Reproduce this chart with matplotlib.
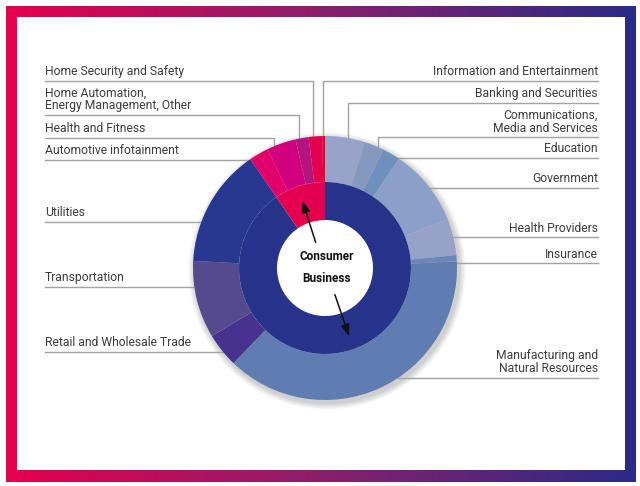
import numpy as np
import matplotlib
matplotlib.use("Agg")
import matplotlib.pyplot as plt
from matplotlib.colors import LinearSegmentedColormap

W, H = 640, 486

# ---- data (shares, percent of total) ----
consumer_labels = [
    "Information and Entertainment",
    "Home Security and Safety",
    "Home Automation,\nEnergy Management, Other",
    "Health and Fitness",
    "Automotive infotainment",
]
consumer_values = [0.33, 1.67, 1.6, 3.6, 2.4]   # counter-clockwise from 12 o'clock
consumer_colors = ["#e8001c", "#e4004f", "#b4147e", "#d2007e", "#e3006b"]

business_labels = [
    "Banking and Securities",
    "Communications,\nMedia and Services",
    "Education",
    "Government",
    "Health Providers",
    "Insurance",
    "Manufacturing and\nNatural Resources",
    "Retail and Wholesale Trade",
    "Transportation",
    "Utilities",
]
business_values = [4.9, 2.4, 2.2, 9.5, 4.5, 0.75, 38.1, 4.2, 9.5, 14.6]  # clockwise
business_colors = ["#97a3c8", "#8798be", "#6f8fbd", "#8ba0c9", "#97a2c9",
                   "#6a86ba", "#5f7db0", "#47338f", "#554a8d", "#283891"]

inner_labels = ["Business", "Consumer"]
inner_colors = ["#27338b", "#e4004f"]

# ---- layout ----
cx, cy = 325, 268          # pie centre in pixels (y down)
R_OUT, R_MID, R_IN = 132, 86, 48
LINE_C = "#a3a3a3"
TEXT_C = "#3b3b3b"
FONT = ["Roboto", "DejaVu Sans"]

# label side, y of the underline, x of the elbow (None = straight into the ring)
label_layout = {
    "Home Security and Safety": ("L", 81, 313),
    "Home Automation,\nEnergy Management, Other": ("L", 115, 299),
    "Health and Fitness": ("L", 138, 274),
    "Automotive infotainment": ("L", 160, None),
    "Utilities": ("L", 222, None),
    "Transportation": ("L", 287, None),
    "Retail and Wholesale Trade": ("L", 352, None),
    "Information and Entertainment": ("R", 81, 323),
    "Banking and Securities": ("R", 103, 348),
    "Communications,\nMedia and Services": ("R", 137, 378),
    "Education": ("R", 158, None),
    "Government": ("R", 188, None),
    "Health Providers": ("R", 237, None),
    "Insurance": ("R", 263, None),
    "Manufacturing and\nNatural Resources": ("R", 378, None),
}


def py(y):
    return H - y


fig = plt.figure(figsize=(W / 100, H / 100), dpi=100)
ax = fig.add_axes([0, 0, 1, 1])

outer_vals = business_values + consumer_values[::-1]
outer_cols = business_colors + consumer_colors[::-1]
inner_vals = [sum(business_values), sum(consumer_values)]

# soft drop shadow under the ring
for k in range(8):
    sh = plt.Circle((cx + 2, py(cy) - 3), R_OUT + 1 + k * 0.8, color="#000000",
                    alpha=0.022, lw=0, zorder=1)
    ax.add_patch(sh)
ax.add_patch(plt.Circle((cx, py(cy)), R_MID, color="white", lw=0, zorder=2.5))

ax.pie(outer_vals, colors=outer_cols, radius=R_OUT, center=(cx, py(cy)),
       startangle=90, counterclock=False,
       wedgeprops=dict(width=R_OUT - R_MID, edgecolor="none", zorder=3))
ax.pie(inner_vals, colors=inner_colors, radius=R_MID, center=(cx, py(cy)),
       startangle=90, counterclock=False,
       wedgeprops=dict(width=R_MID - R_IN, edgecolor="none", zorder=4))

# leader lines and labels
for name, (side, ly, elbow) in label_layout.items():
    if side == "L":
        x0 = 45
        if elbow is None:
            xe = cx - np.sqrt(R_OUT ** 2 - (cy - ly) ** 2)
            ax.plot([x0, xe], [py(ly), py(ly)], color=LINE_C, lw=1, zorder=2)
        else:
            ye = cy - np.sqrt(R_OUT ** 2 - (cx - elbow) ** 2)
            ax.plot([x0, elbow, elbow], [py(ly), py(ly), py(ye)],
                    color=LINE_C, lw=1, zorder=2)
        ax.text(x0, py(ly - 2.5), name, ha="left", va="bottom", fontsize=8.7,
                color=TEXT_C, family=FONT, linespacing=1.0)
    else:
        x0 = 598
        if elbow is None:
            xe = cx + np.sqrt(max(R_OUT ** 2 - (cy - ly) ** 2, 0))
            ax.plot([x0, xe], [py(ly), py(ly)], color=LINE_C, lw=1, zorder=2)
        else:
            ye = cy - np.sqrt(R_OUT ** 2 - (cx - elbow) ** 2)
            ax.plot([x0, elbow, elbow], [py(ly), py(ly), py(ye)],
                    color=LINE_C, lw=1, zorder=2)
        ax.text(x0, py(ly - 2.5), name, ha="right", va="bottom", fontsize=8.7,
                color=TEXT_C, family=FONT, linespacing=1.0, multialignment="right")

# centre captions and arrows
ax.text(327, py(257), "Consumer", ha="center", va="center", fontsize=8.5,
        fontweight="bold", color="#111111", family=FONT, zorder=6)
ax.text(327, py(279), "Business", ha="center", va="center", fontsize=8.5,
        fontweight="bold", color="#111111", family=FONT, zorder=6)
arrow = dict(arrowstyle="-|>,head_length=0.7,head_width=0.25", color="#111111", lw=1.1)
ax.annotate("", xy=(301.5, py(198)), xytext=(316.5, py(245)), arrowprops=arrow, zorder=6)
ax.annotate("", xy=(350, py(339)), xytext=(334, py(292)), arrowprops=arrow, zorder=6)

# gradient frame
cmap = LinearSegmentedColormap.from_list("frame", ["#e6004d", "#8a1f6d", "#2b2a86"])
grad = np.linspace(0, 1, 256)[None, :]
x_l, x_r, y_t, y_b, t = 6, 636, 6, 482, 11
for (ya, yb) in [(y_t, y_t + t), (y_b - t, y_b)]:
    ax.imshow(grad, cmap=cmap, extent=(x_l, x_r, py(yb), py(ya)), aspect="auto", zorder=5)
ax.add_patch(plt.Rectangle((x_l, py(y_b)), t, y_b - y_t, color=cmap(0.0), lw=0, zorder=5))
ax.add_patch(plt.Rectangle((x_r - t, py(y_b)), t, y_b - y_t, color=cmap(1.0), lw=0, zorder=5))

ax.set_xlim(0, W)
ax.set_ylim(0, H)
ax.set_aspect("auto")
ax.axis("off")

fig.savefig("out.png", dpi=100)
